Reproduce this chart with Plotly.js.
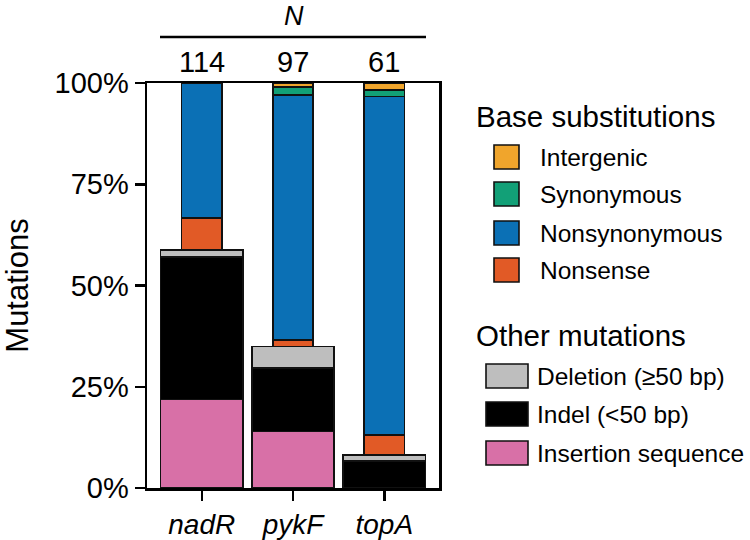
<!DOCTYPE html>
<html>
<head>
<meta charset="utf-8">
<script src="https://cdn.plot.ly/plotly-3.0.1.min.js"></script>
<style>
  html, body { margin: 0; padding: 0; background: #fff; }
  #chart { width: 750px; height: 540px; }
</style>
</head>
<body>
<div id="chart"></div>
<script>
// genes and number of mutations per gene
var genes = ['nadR', 'pykF', 'topA'];
var nTotals = [114, 97, 61];

// percent of mutations, bottom to top
var insertionSeq = [21.9, 14.0, null];
var indel = [35.1, 15.7, 6.6];
var deletion = [1.8, 5.2, 1.6];
var nonsense = [7.9, 1.6, 4.9];
var nonsynonymous = [33.3, 60.5, 83.6];
var synonymous = [null, 2.0, 1.6];
var intergenic = [null, 1.0, 1.7];

var yTicks = [0, 25, 50, 75, 100];
var yTickText = ['0%', '25%', '50%', '75%', '100%'];

var otherNames = ['Deletion (\u226550 bp)', 'Indel (<50 bp)', 'Insertion sequence'];
var otherColors = ['#bebebe', '#000000', '#d870a7'];
var baseNames = ['Intergenic', 'Synonymous', 'Nonsynonymous', 'Nonsense'];
var baseColors = ['#f0a52c', '#12a077', '#0b70b5', '#e15a26'];

var FONT = 'Liberation Sans, Arial, Helvetica, sans-serif';

function bar(y, name, color, width) {
  return {
    type: 'bar', x: genes, y: y, name: name, width: width,
    marker: {color: color, line: {color: '#111', width: 1.6}},
    showlegend: false, hoverinfo: 'name+y'
  };
}

var data = [
  bar(insertionSeq, otherNames[2], otherColors[2], 0.9),
  bar(indel, otherNames[1], otherColors[1], 0.9),
  bar(deletion, otherNames[0], otherColors[0], 0.9),
  bar(nonsense, baseNames[3], baseColors[3], 0.44),
  bar(nonsynonymous, baseNames[2], baseColors[2], 0.44),
  bar(synonymous, baseNames[1], baseColors[1], 0.44),
  bar(intergenic, baseNames[0], baseColors[0], 0.44)
];

// pixel helpers for the hand-made legend (plot area 147..439 x 83..488)
function px(x) { return (x - 147) / 292; }
function py(y) { return (488 - y) / 405; }

function label(xref, x, y, text, size, anchor) {
  return {xref: xref, yref: 'paper', x: x, y: y, text: text, showarrow: false,
    xanchor: anchor || 'center', yanchor: 'middle',
    font: {family: FONT, size: size, color: '#000'}};
}

var shapes = [];
var annotations = [];

// header: N line and counts
annotations.push(label('paper', px(294), py(16), '<i>N</i>', 27));
shapes.push({type: 'line', xref: 'paper', yref: 'paper', x0: px(160), x1: px(426),
  y0: py(37), y1: py(37), line: {color: '#000', width: 2.5}});
genes.forEach(function (g, i) {
  annotations.push(label('x', g, py(62), String(nTotals[i]), 29));
});

// legend: base substitutions
annotations.push(label('paper', px(474), py(116), 'Base substitutions', 29.5, 'left'));
var baseY = [157, 194, 233, 270];
baseNames.forEach(function (n, i) {
  shapes.push({type: 'rect', xref: 'paper', yref: 'paper', x0: px(494), x1: px(519),
    y0: py(baseY[i] - 12), y1: py(baseY[i] + 12), fillcolor: baseColors[i],
    line: {color: '#111', width: 1.6}});
  annotations.push(label('paper', px(538), py(baseY[i]), n, 24.5, 'left'));
});

// legend: other mutations
annotations.push(label('paper', px(474), py(335), 'Other mutations', 29.5, 'left'));
var otherY = [376, 414, 453];
otherNames.forEach(function (n, i) {
  shapes.push({type: 'rect', xref: 'paper', yref: 'paper', x0: px(486), x1: px(528),
    y0: py(otherY[i] - 12), y1: py(otherY[i] + 12), fillcolor: otherColors[i],
    line: {color: '#111', width: 1.6}});
  annotations.push(label('paper', px(535), py(otherY[i]), n, 24.5, 'left'));
});

var layout = {
  width: 750, height: 540,
  margin: {l: 147, r: 311, t: 83, b: 52},
  paper_bgcolor: '#fff', plot_bgcolor: '#fff',
  barmode: 'stack',
  font: {family: FONT, color: '#000'},
  xaxis: {
    range: [-0.6, 2.6], showgrid: false, zeroline: false,
    showline: true, linecolor: '#000', linewidth: 2.5, mirror: true,
    ticks: 'outside', ticklen: 10, tickwidth: 2.5, tickcolor: '#000',
    tickfont: {family: FONT, size: 28, style: 'italic', color: '#000'}
  },
  yaxis: {
    range: [0, 100], showgrid: false, zeroline: false,
    showline: true, linecolor: '#000', linewidth: 2.5, mirror: true,
    ticks: 'outside', ticklen: 10, tickwidth: 2.5, tickcolor: '#000',
    tickmode: 'array', tickvals: yTicks, ticktext: yTickText,
    tickfont: {family: FONT, size: 29, color: '#000'},
    automargin: false,
    title: {text: 'Mutations', font: {family: FONT, size: 31, color: '#000'}, standoff: 20}
  },
  shapes: shapes,
  annotations: annotations
};

Plotly.newPlot('chart', data, layout, {displayModeBar: false, staticPlot: true});
</script>
</body>
</html>
